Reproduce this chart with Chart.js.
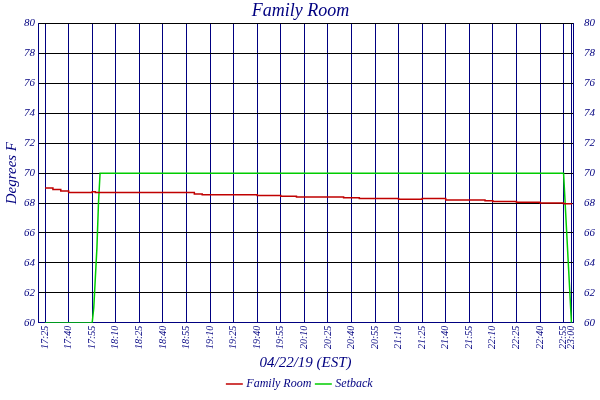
<!DOCTYPE html>
<html>
<head>
<script src="https://cdn.jsdelivr.net/npm/chart.js@4"></script>
<style>
  body { margin: 0; background: #fff; }
  #wrap { width: 600px; height: 400px; }
</style>
</head>
<body>
<div id="wrap"><canvas id="c"></canvas></div>
<script>
// minutes after 17:25
const tickMinutes = [0, 15, 30, 45, 60, 75, 90, 105, 120, 135, 150, 165, 180, 195, 210, 225, 240, 255, 270, 285, 300, 315, 330, 335];
const roomMinutes = [0, 5, 10, 15, 25, 29, 30, 32, 40, 60, 90, 95, 100, 120, 135, 150, 160, 165, 180, 190, 200, 210, 225, 240, 255, 270, 280, 285, 300, 315, 330, 335];
const roomTemps = [69.0, 68.9, 68.8, 68.7, 68.7, 68.7, 68.75, 68.7, 68.7, 68.7, 68.7, 68.6, 68.55, 68.55, 68.5, 68.45, 68.4, 68.4, 68.4, 68.35, 68.3, 68.3, 68.25, 68.3, 68.2, 68.2, 68.15, 68.1, 68.05, 68.0, 67.95, 67.9];
const setbackMinutes = [0, 30, 31, 32, 33, 34, 35, 330, 331, 332, 333, 334, 335];
const setbackTemps = [60, 60, 61, 63, 65, 68, 70, 70, 68, 66, 64, 62, 60];

const navy = '#000080';
const font = { family: 'Liberation Serif', style: 'italic', weight: 'normal' };

function label(m) {
  const t = 17 * 60 + 25 + m;
  return Math.floor(t / 60) + ':' + String(t % 60).padStart(2, '0');
}

const pts = (xs, ys) => xs.map((x, i) => ({ x, y: ys[i] }));
const yAxis = (pos) => ({
  position: pos,
  min: 60, max: 80,
  ticks: { stepSize: 2, color: navy, font: { ...font, size: 11 } },
  grid: { color: '#000000', drawTicks: false, lineWidth: 1 },
  border: { color: navy },
});

new Chart(document.getElementById('c'), {
  type: 'line',
  data: {
    datasets: [
      {
        label: 'Family Room',
        data: pts(roomMinutes, roomTemps),
        borderColor: '#c00000',
        backgroundColor: '#c00000',
        borderWidth: 1.5,
        stepped: true,
        pointRadius: 0,
      },
      {
        label: 'Setback',
        data: pts(setbackMinutes, setbackTemps),
        borderColor: '#00cc00',
        backgroundColor: '#00cc00',
        borderWidth: 1.5,
        pointRadius: 0,
      },
    ],
  },
  options: {
    responsive: true,
    maintainAspectRatio: false,
    animation: false,
    layout: { padding: { left: 3, right: 2, bottom: 0 } },
    scales: {
      x: {
        type: 'linear',
        min: -4.5, max: 336,
        afterBuildTicks: (axis) => { axis.ticks = tickMinutes.map((v) => ({ value: v })); },
        ticks: {
          color: navy, font: { ...font, size: 10 },
          maxRotation: 90, minRotation: 90, autoSkip: false,
          callback: (v) => label(v),
        },
        grid: { color: navy, drawTicks: false },
        border: { color: navy },
        title: { display: true, text: '04/22/19 (EST)', color: navy, font: { ...font, size: 15 }, padding: { top: 2, bottom: 0 } },
      },
      y: {
        ...yAxis('left'),
        title: { display: true, text: 'Degrees F', color: navy, font: { ...font, size: 15 }, padding: 0 },
      },
      y2: { ...yAxis('right'), grid: { display: false }, border: { color: navy } },
    },
    plugins: {
      title: { display: true, text: 'Family Room', color: navy, font: { ...font, size: 18 }, padding: { top: 0, bottom: 2 } },
      legend: {
        position: 'bottom',
        labels: { color: navy, font: { ...font, size: 12 }, usePointStyle: true, pointStyle: 'line', boxWidth: 14, padding: 6 },
      },
      tooltip: { enabled: false },
    },
  },
});
</script>
</body>
</html>
